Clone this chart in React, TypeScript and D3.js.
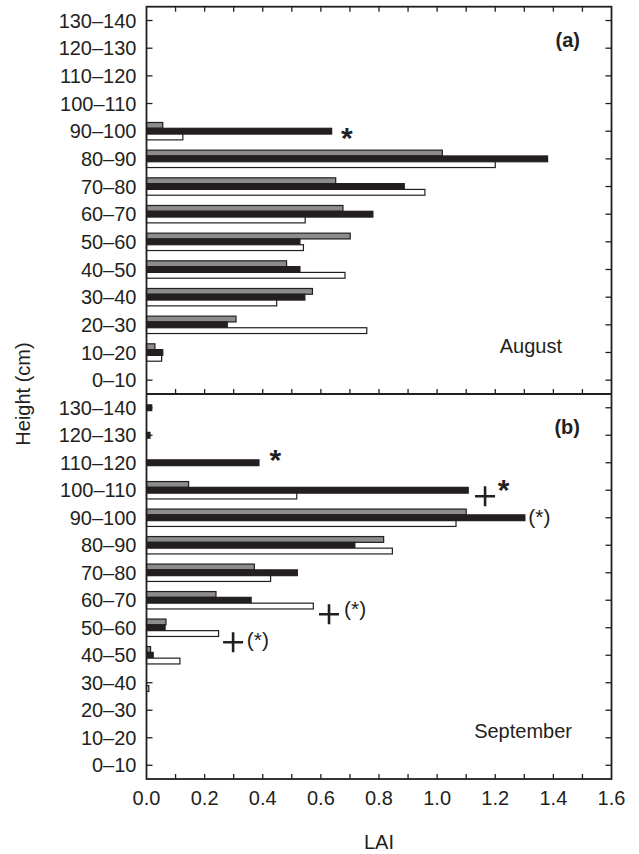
import React from 'react';
import * as d3 from 'd3';

// height classes, bottom to top
const categories = [
  '0–10', '10–20', '20–30', '30–40', '40–50', '50–60', '60–70',
  '70–80', '80–90', '90–100', '100–110', '110–120', '120–130', '130–140',
];

// August (a)
const augGray = [0, 0.029, 0.308, 0.571, 0.482, 0.701, 0.676, 0.651, 1.018, 0.056, 0, 0, 0, 0];
const augBlack = [0, 0.056, 0.278, 0.545, 0.528, 0.528, 0.779, 0.887, 1.38, 0.637, 0, 0, 0, 0];
const augWhite = [0, 0.052, 0.758, 0.448, 0.683, 0.54, 0.546, 0.958, 1.2, 0.125, 0, 0, 0, 0];

// September (b)
const sepGray = [0, 0, 0, 0, 0.014, 0.067, 0.239, 0.371, 0.816, 1.1, 0.145, 0, 0, 0];
const sepBlack = [0, 0, 0, 0, 0.023, 0.064, 0.36, 0.519, 0.717, 1.302, 1.107, 0.387, 0.012, 0.018];
const sepWhite = [0, 0, 0, 0.008, 0.115, 0.248, 0.574, 0.427, 0.846, 1.065, 0.517, 0, 0, 0];

const xTicks = [0, 0.2, 0.4, 0.6, 0.8, 1.0, 1.2, 1.4, 1.6];

// significance marks: [category, LAI position, text, vertical shift px]
const augMarks = [['90–100', 0.689, '*', 0]];
const sepMarks = [
  ['110–120', 0.443, '*', -10],
  ['100–110', 1.229, '*', -7.6],
  ['90–100', 1.352, '(*)', 0],
  ['60–70', 0.718, '(*)', 10],
  ['50–60', 0.383, '(*)', 13],
];
const sepPlus = [
  ['100–110', 1.165, 6],
  ['60–70', 0.628, 14],
  ['50–60', 0.298, 14.5],
];

const W = 639;
const H = 854;
const left = 146.5;
const right = 611.5;
const top = 6.7;
const mid = 394;
const bottom = 779;
const ink = '#231f20';
const font = 'Liberation Sans, Arial, sans-serif';

const x = d3.scaleLinear().domain([0, 1.6]).range([left, right]);

function Panel({ y0, y1, gray, black, white, marks, plus, tag, month, monthX }) {
  const y = d3
    .scaleBand()
    .domain([...categories].reverse())
    .range([y0, y1]);
  const c = (cat) => y(cat) + y.bandwidth() / 2;
  const bh = 5.8;
  const series = [
    { vals: gray, fill: '#8c8c8c', off: -1.5 },
    { vals: black, fill: ink, off: -0.5 },
    { vals: white, fill: '#ffffff', off: 0.5 },
  ];
  return (
    <g>
      {categories.map((cat) => (
        <g key={cat}>
          <line x1={left} x2={left + 6} y1={c(cat)} y2={c(cat)} stroke={ink} strokeWidth={1.3} />
          <line x1={right - 6} x2={right} y1={c(cat)} y2={c(cat)} stroke={ink} strokeWidth={1.3} />
          <text x={136.5} y={c(cat) + 7} textAnchor="end" fontSize={20} fill={ink}>
            {cat}
          </text>
        </g>
      ))}
      {series.map((s, si) =>
        categories.map((cat, i) =>
          s.vals[i] > 0 ? (
            <rect
              key={si + '-' + cat}
              x={x(0)}
              y={c(cat) + s.off * bh}
              width={x(s.vals[i]) - x(0)}
              height={bh}
              fill={s.fill}
              stroke={ink}
              strokeWidth={1.2}
            />
          ) : null,
        ),
      )}
      {marks.map(([cat, v, t, dy], i) =>
        t === '*' ? (
          <text key={'m' + i} x={x(v)} y={c(cat) + dy + 17}
            textAnchor="middle" fontSize={30} fontWeight="bold" fill={ink}>*</text>
        ) : (
          <text key={'m' + i} x={x(v)} y={c(cat) + dy + 6}
            textAnchor="middle" fontSize={21} fill={ink}>{t}</text>
        ),
      )}
      {plus.map(([cat, v, dy], i) => {
        const cx = x(v);
        const cy = c(cat) + dy;
        return (
          <path key={'p' + i} d={`M${cx - 10},${cy}H${cx + 10}M${cx},${cy - 10}V${cy + 10}`}
            stroke={ink} strokeWidth={2.6} fill="none" />
        );
      })}
      <text x={580} y={y0 + 40} textAnchor="end" fontSize={20} fontWeight="bold" fill={ink}>{tag}</text>
      <text x={monthX} y={y1 - 41} textAnchor="end" fontSize={20} fill={ink}>{month}</text>
    </g>
  );
}

export default function App() {
  const minor = d3.range(1, 16).map((d) => d / 10);
  return (
    <svg width={W} height={H} style={{ position: 'absolute', left: 0, top: 0, background: '#fff' }}
      fontFamily={font}>
      <Panel y0={top} y1={mid} gray={augGray} black={augBlack} white={augWhite}
        marks={augMarks} plus={[]} tag="(a)" month="August" monthX={562} />
      <Panel y0={mid} y1={bottom} gray={sepGray} black={sepBlack} white={sepWhite}
        marks={sepMarks} plus={sepPlus} tag="(b)" month="September" monthX={572} />
      {minor.map((t) => (
        <g key={t}>
          <line x1={x(t)} x2={x(t)} y1={top} y2={top + 5} stroke={ink} strokeWidth={1.3} />
          <line x1={x(t)} x2={x(t)} y1={mid - 5} y2={mid} stroke={ink} strokeWidth={1.3} />
          <line x1={x(t)} x2={x(t)} y1={bottom - 5} y2={bottom} stroke={ink} strokeWidth={1.3} />
        </g>
      ))}
      <rect x={left} y={top} width={right - left} height={bottom - top} fill="none" stroke={ink} strokeWidth={1.8} />
      <line x1={left} x2={right} y1={mid} y2={mid} stroke={ink} strokeWidth={1.8} />
      {xTicks.map((t) => (
        <text key={t} x={x(t)} y={805} textAnchor="middle" fontSize={20} fill={ink}>
          {d3.format('.1f')(t)}
        </text>
      ))}
      <text x={x(0.8)} y={849} textAnchor="middle" fontSize={20} fill={ink}>LAI</text>
      <text transform={`translate(30,${mid}) rotate(-90)`} textAnchor="middle" fontSize={20} fill={ink}>
        Height (cm)
      </text>
    </svg>
  );
}
